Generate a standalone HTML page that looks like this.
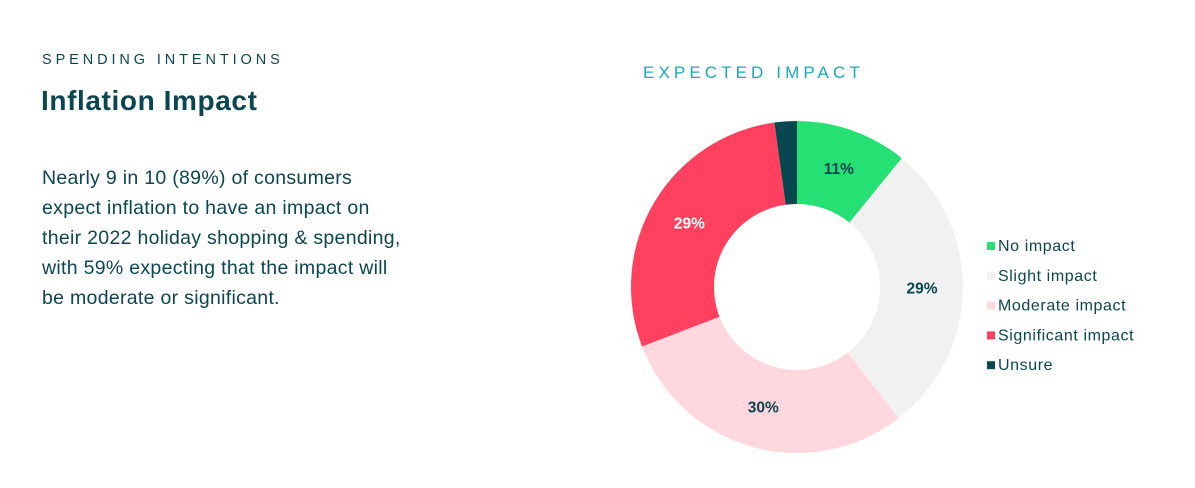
<!DOCTYPE html>
<html><head><meta charset="utf-8"><style>
body{margin:0;width:1195px;height:488px;background:#fff;font-family:"Liberation Sans",sans-serif;color:#0b4650;position:relative;overflow:hidden}
.a{position:absolute;margin:0;white-space:nowrap}
</style></head><body>
<div class="a" style="left:42px;top:52px;font-size:14.5px;letter-spacing:3.9px">SPENDING INTENTIONS</div>
<h1 class="a" style="left:41px;top:85px;font-size:28px;font-weight:bold;letter-spacing:0.6px">Inflation Impact</h1>
<p class="a" style="left:42px;top:163px;font-size:19.5px;line-height:30px;letter-spacing:0.3px">Nearly 9 in 10 (89%) of consumers<br>expect inflation to have an impact on<br>their 2022 holiday shopping &amp; spending,<br>with 59% expecting that the impact will<br>be moderate or significant.</p>
<div class="a" style="left:643px;top:63px;font-size:17px;letter-spacing:4.1px;color:#1aa9b8">EXPECTED IMPACT</div>
<svg class="a" id="chart" style="left:0;top:0" width="1195" height="488"></svg>
<script>
const categories=["No impact","Slight impact","Moderate impact","Significant impact","Unsure"];
const values=[11,29,30,29,2.2];
const labels=["11%","29%","30%","29%",""];
const colors=["#25e072","#f1f1f1","#ffd8df","#ff415f","#07474f"];
const labelColors=["#0b4650","#0b4650","#0b4650","#ffffff","#0b4650"];
const NS="http://www.w3.org/2000/svg",svg=document.getElementById('chart');
const cx=797,cy=287,R=166,r=83,total=values.reduce((a,b)=>a+b,0);
function pt(a,rad){return [cx+rad*Math.sin(a),cy-rad*Math.cos(a)];}
let acc=0;
values.forEach((v,i)=>{
 const a0=acc/total*2*Math.PI;acc+=v;const a1=acc/total*2*Math.PI;
 const lg=(a1-a0)>Math.PI?1:0;
 const [x0,y0]=pt(a0,R),[x1,y1]=pt(a1,R),[x2,y2]=pt(a1,r),[x3,y3]=pt(a0,r);
 const p=document.createElementNS(NS,'path');
 p.setAttribute('d',`M${x0},${y0}A${R},${R} 0 ${lg} 1 ${x1},${y1}L${x2},${y2}A${r},${r} 0 ${lg} 0 ${x3},${y3}Z`);
 p.setAttribute('fill',colors[i]);
 
 
 svg.appendChild(p);
 if(labels[i]){
  const [lx,ly]=pt((a0+a1)/2,125);
  const t=document.createElementNS(NS,'text');
  t.setAttribute('x',lx);t.setAttribute('y',ly+5);
  t.setAttribute('text-anchor','middle');t.setAttribute('font-size','15.5');t.setAttribute('font-weight','bold');
  t.setAttribute('fill',labelColors[i]);t.textContent=labels[i];
  
  
  svg.appendChild(t);
 }
});
categories.forEach((c,i)=>{
 const y=245+i*29.8;
 const g=document.createElementNS(NS,'g');
 
 
 const s=document.createElementNS(NS,'rect');
 s.setAttribute('x',987);s.setAttribute('y',y-3);s.setAttribute('width',8);s.setAttribute('height',8);s.setAttribute('fill',colors[i]);
 const t=document.createElementNS(NS,'text');
 t.setAttribute('x',998);t.setAttribute('y',y+6);t.setAttribute('font-size','16');t.setAttribute('letter-spacing','0.6');t.setAttribute('fill','#0b4650');t.textContent=c;
 g.appendChild(s);g.appendChild(t);svg.appendChild(g);
});
</script>
</body></html>
